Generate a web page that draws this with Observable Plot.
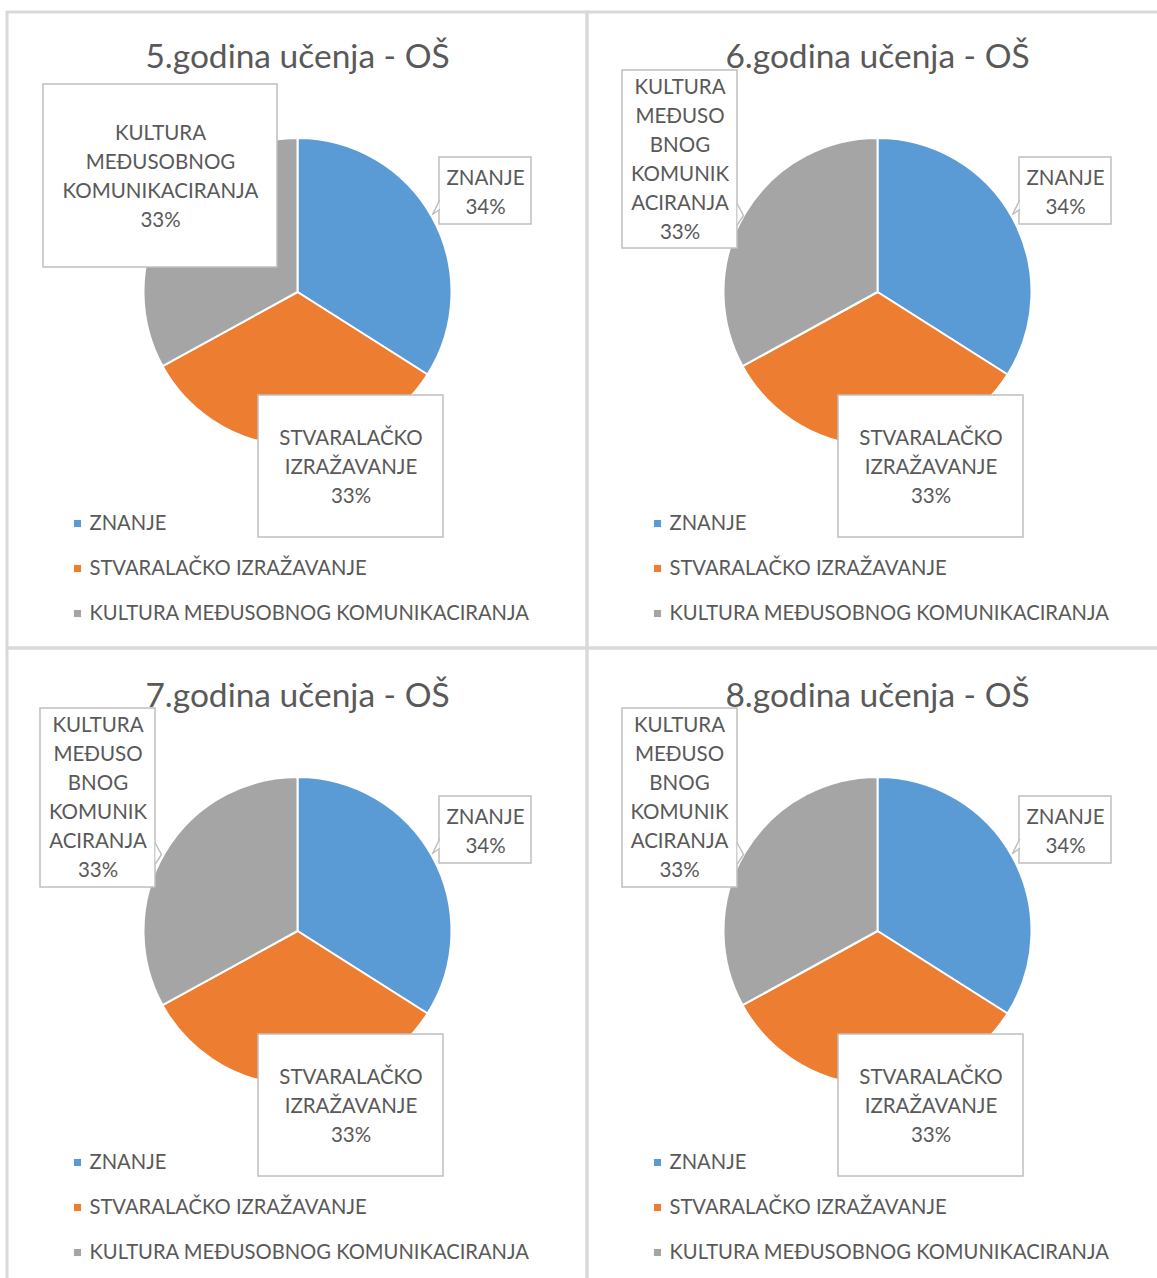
<!DOCTYPE html>
<html>
<head>
<meta charset="utf-8">
<script src="https://cdn.jsdelivr.net/npm/d3@7"></script>
<script src="https://cdn.jsdelivr.net/npm/@observablehq/plot@0.6"></script>
<style>
  html, body { margin: 0; padding: 0; background: #ffffff; }
  #chart svg { display: block; }
</style>
</head>
<body>
<div id="chart"></div>
<script>
// ---------- DATA ----------
const categories = ["ZNANJE", "STVARALAČKO IZRAŽAVANJE", "KULTURA MEĐUSOBNOG KOMUNIKACIRANJA"];
const titles = ["5.godina učenja - OŠ", "6.godina učenja - OŠ", "7.godina učenja - OŠ", "8.godina učenja - OŠ"];
const grade5 = [34, 33, 33];
const grade6 = [34, 33, 33];
const grade7 = [34, 33, 33];
const grade8 = [34, 33, 33];
const seriesValues = [grade5, grade6, grade7, grade8];
// wrapped label text (as the chart breaks it)
const wideLabelLines = [["ZNANJE"], ["STVARALAČKO", "IZRAŽAVANJE"], ["KULTURA", "MEĐUSOBNOG", "KOMUNIKACIRANJA"]];
const narrowLabelLines = [["ZNANJE"], ["STVARALAČKO", "IZRAŽAVANJE"], ["KULTURA", "MEĐUSO", "BNOG", "KOMUNIK", "ACIRANJA"]];
const panelLabelLines = [wideLabelLines, narrowLabelLines, narrowLabelLines, narrowLabelLines];

// ---------- STYLE / LAYOUT ----------
const colors = ["#5b9bd5", "#ed7d31", "#a5a5a5"];
const textColor = "#595959";
const W = 1157, H = 1278;
const FONT = "Lato, 'Open Sans', sans-serif";
const origins = [[7, 12], [587, 12], [7, 651], [587, 651]];
const borders = [[7, 12, 587, 648], [587, 12, 1175, 648], [7, 648, 587, 1290], [587, 648, 1175, 1290]];
const common = {
  title: [290, 45], pie: [290.5, 280, 154],
  legendMarkX: 70, legendTextX: 82, legendY: [511, 556, 601],
  boxes: [
    {box: [432, 145, 524, 212], cx: 478, y0: 166, ptr: [[432, 188], [425, 202], [432, 197]]},
    {box: [251, 383, 436, 525], cx: 343.5, y0: 426, ptr: null}
  ]
};
const wideKultura = {box: [36, 72, 270, 255], cx: 153, y0: 121, ptr: null};
const narrowKultura = [
  null,
  {box: [35, 58, 150, 236], cx: 92.5, y0: 75, ptr: [[150, 192], [156, 203], [150, 212]]},
  {box: [33, 57, 148, 236], cx: 90.5, y0: 74, ptr: [[148, 192], [154, 203], [148, 212]]},
  {box: [35, 57, 150, 236], cx: 92, y0: 74, ptr: [[150, 192], [156, 203], [150, 212]]}
];
const lineStep = 29;

// ---------- BUILD TABLES ----------
const pieRows = [], titleRows = [], legendRows = [], boxRows = [], labelRows = [], ptrRows = [], borderRows = [];
borders.forEach((b, i) => borderRows.push({x1: b[0], y1: b[1], x2: b[2], y2: b[3]}));
titles.forEach((t, p) => {
  const [ox, oy] = origins[p];
  titleRows.push({x: ox + common.title[0], y: oy + common.title[1], text: t});
  categories.forEach((c, k) => {
    pieRows.push({panel: p, category: c, value: seriesValues[p][k]});
    legendRows.push({mx: ox + common.legendMarkX, tx: ox + common.legendTextX, y: oy + common.legendY[k], category: c});
    const lay = k < 2 ? common.boxes[k] : (p === 0 ? wideKultura : narrowKultura[p]);
    boxRows.push({x1: ox + lay.box[0], y1: oy + lay.box[1], x2: ox + lay.box[2], y2: oy + lay.box[3]});
    const lines = [...panelLabelLines[p][k], seriesValues[p][k] + "%"];
    lines.forEach((ln, j) => labelRows.push({x: ox + lay.cx, y: oy + lay.y0 + j * lineStep, text: ln}));
    if (lay.ptr) lay.ptr.forEach(pt => ptrRows.push({id: p + "-" + k, x: ox + pt[0], y: oy + pt[1]}));
  });
});
const pieCenters = origins.map(([ox, oy]) => ({cx: ox + common.pie[0], cy: oy + common.pie[1], r: common.pie[2]}));

// custom pie mark drawn through Plot's scales
function pieMark(index, scales, values, dimensions, context) {
  const g = d3.create("svg:g");
  titles.forEach((t, p) => {
    const rows = pieRows.filter(d => d.panel === p);
    const arcs = d3.pie().sort(null).value(d => d.value)(rows);
    const c = pieCenters[p];
    const cx = scales.x(c.cx), cy = scales.y(c.cy);
    const r = Math.abs(scales.x(c.cx + c.r) - cx);
    const arc = d3.arc().innerRadius(0).outerRadius(r);
    g.append("g").attr("transform", `translate(${cx},${cy})`)
      .selectAll("path").data(arcs).join("path")
      .attr("d", arc)
      .attr("fill", d => scales.color(d.data.category))
      .attr("stroke", "#ffffff").attr("stroke-width", 2).attr("stroke-linejoin", "round");
  });
  return g.node();
}

const chart = Plot.plot({
  width: W, height: H, margin: 0,
  x: {domain: [0, W], range: [0, W], axis: null},
  y: {domain: [0, H], range: [0, H], axis: null},
  color: {domain: categories, range: colors},
  style: {fontFamily: FONT, background: "#ffffff"},
  marks: [
    Plot.rect(borderRows, {x1: "x1", y1: "y1", x2: "x2", y2: "y2", fill: "none", stroke: "#d9d9d9", strokeWidth: 3}),
    pieMark,
    Plot.rect(boxRows, {x1: "x1", y1: "y1", x2: "x2", y2: "y2", fill: "#ffffff", stroke: "#bfbfbf", strokeWidth: 1.5}),
    Plot.line(ptrRows, {x: "x", y: "y", z: "id", fill: "#ffffff", stroke: "#bfbfbf", strokeWidth: 1.5, curve: "linear"}),
    Plot.text(labelRows, {x: "x", y: "y", text: "text", fill: textColor, fontSize: 20.5, textAnchor: "middle"}),
    Plot.text(titleRows, {x: "x", y: "y", text: "text", fill: textColor, fontSize: 33.5, textAnchor: "middle"}),
    Plot.dot(legendRows, {x: "mx", y: "y", fill: "category", symbol: "square", r: 4}),
    Plot.text(legendRows, {x: "tx", y: "y", text: "category", fill: textColor, fontSize: 20.2, textAnchor: "start"})
  ]
});
document.getElementById("chart").appendChild(chart);
</script>
</body>
</html>
